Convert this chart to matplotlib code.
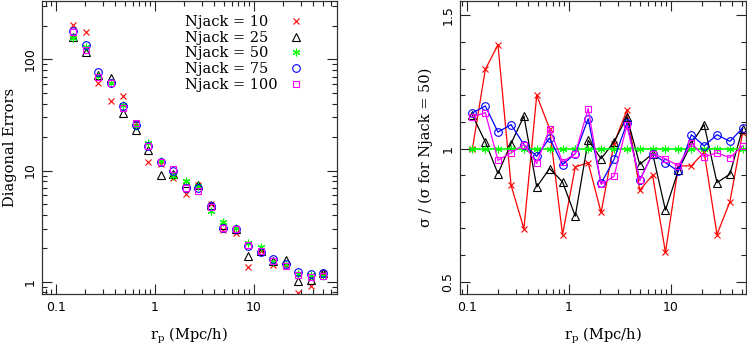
import numpy as np
import matplotlib
matplotlib.use("Agg")
import matplotlib.pyplot as plt
from matplotlib.patches import Patch
from matplotlib.ticker import FuncFormatter, MultipleLocator

plt.rcParams['font.family'] = ['DejaVu Serif']
plt.rcParams['mathtext.fontset'] = 'dejavuserif'

# projected separation bins (Mpc/h)
rp = [0.113, 0.151, 0.201, 0.270, 0.361, 0.482, 0.644, 0.863, 1.15, 1.54, 2.06,
      2.76, 3.69, 4.93, 6.59, 8.81, 11.8, 15.8, 21.1, 28.2, 37.7, 50.3]

# diagonal errors for Njack = 50 (first bin is off the top of the plot)
err_50 = [np.nan, 156, 128, 70.8, 60.8, 38.8, 24.9, 17.6, 12.2, 8.98, 8.09,
          7.29, 4.36, 3.47, 3.02, 2.21, 2.04, 1.51, 1.44, 1.17, 1.15, 1.12]

# sigma / sigma(Njack = 50)
ratio_10 = [1.0, 1.297, 1.39, 0.862, 0.699, 1.2, 1.075, 0.677, 0.931, 0.947, 0.76,
            1.019, 1.144, 0.844, 0.9, 0.61, 0.935, 0.935, 0.987, 0.677, 0.8, 1.06]
ratio_25 = [1.125, 1.025, 0.906, 1.019, 1.122, 0.856, 0.925, 0.875, 0.746, 1.031, 0.962,
            1.025, 1.119, 0.94, 0.981, 0.769, 0.919, 1.019, 1.09, 0.872, 0.904, 1.075]
ratio_50 = [1.0] * 22
ratio_75 = [1.134, 1.16, 1.062, 1.09, 1.015, 0.971, 1.04, 0.94, 0.981, 1.112, 0.869,
            0.959, 1.096, 0.881, 0.981, 0.947, 0.915, 1.052, 1.01, 1.052, 1.027, 1.077]
ratio_100 = [1.119, 1.135, 0.956, 0.984, 1.015, 0.944, 1.075, 0.95, 0.981, 1.15, 0.866,
             0.896, 1.087, 0.881, 0.981, 0.962, 0.935, 1.021, 0.969, 0.984, 0.966, 1.01]

labels = ['Njack = 10', 'Njack = 25', 'Njack = 50', 'Njack = 75', 'Njack = 100']
colors = ['#ff0000', '#000000', '#00ff00', '#0000ff', '#ff00ff']
markers = ['x', '^', (6, 2, 0), 'o', 's']
msizes = [5, 5.5, 5.5, 5.5, 5]
ratios = [ratio_10, ratio_25, ratio_50, ratio_75, ratio_100]

fig = plt.figure(figsize=(7.47, 3.51), dpi=100)
ax1 = fig.add_axes([0.0566, 0.161, 0.394, 0.8375])
ax2 = fig.add_axes([0.6158, 0.161, 0.3829, 0.8375])

rp_arr = np.array(rp)
e50 = np.array(err_50)
handles = []
for lab, c, m, s, r in zip(labels, colors, markers, msizes, ratios):
    h, = ax1.plot(rp_arr, e50 * np.array(r), ls='none', marker=m, ms=s, mec=c,
                  mfc='none', mew=0.8, label=lab)
    handles.append(h)
    lw = 1.2 if lab == 'Njack = 50' else 0.9
    ax2.plot(rp_arr, r, color=c, lw=lw, marker=m, ms=s, mec=c, mfc='none', mew=0.8)

# legend: left-aligned text, markers in a column on the right
leg_kw = dict(frameon=False, fontsize=10.5, labelspacing=0.11, borderaxespad=0,
              borderpad=0, numpoints=1)
blank = [Patch(facecolor='none', edgecolor='none') for _ in labels]
leg_txt = ax1.legend(blank, labels, loc='upper left', bbox_to_anchor=(0.485, 0.95),
                     handlelength=0, handletextpad=0, **leg_kw)
ax1.add_artist(leg_txt)
ax1.legend(handles, [' '] * len(labels), loc='upper right', bbox_to_anchor=(0.892, 0.95),
           markerfirst=False, handlelength=1.2, handletextpad=0.0, **leg_kw)

fmt = FuncFormatter(lambda v, p: '%g' % v)

ax1.set_xscale('log')
ax1.set_yscale('log')
ax1.set_xlim(0.0733, 69)
ax1.set_ylim(0.767, 338)
ax1.xaxis.set_major_formatter(fmt)
ax1.yaxis.set_major_formatter(fmt)
ax1.set_xlabel(r'r$_\mathregular{p}$ (Mpc/h)', fontsize=10.5, labelpad=8)
ax1.set_ylabel('Diagonal Errors', fontsize=10.5, labelpad=5)

ax2.set_xscale('log')
ax2.set_xlim(0.0853, 54.3)
ax2.set_ylim(0.452, 1.556)
ax2.xaxis.set_major_formatter(fmt)
ax2.yaxis.set_major_locator(MultipleLocator(0.5))
ax2.yaxis.set_minor_locator(MultipleLocator(0.1))
ax2.yaxis.set_major_formatter(fmt)
ax2.set_xlabel(r'r$_\mathregular{p}$ (Mpc/h)', fontsize=10.5, labelpad=8)
ax2.set_ylabel('σ / (σ for Njack = 50)', fontsize=10.5, labelpad=6)

for ax in (ax1, ax2):
    ax.tick_params(which='both', direction='in', top=True, right=True,
                   labelsize=9, colors='#222222', labelcolor='black')
    ax.tick_params(which='major', length=7, width=0.8)
    ax.tick_params(which='minor', length=3.5, width=0.8)
    ax.tick_params(axis='x', pad=5)
    ax.tick_params(axis='y', labelrotation=90, pad=4)
    for sp in ax.spines.values():
        sp.set_linewidth(0.9)
        sp.set_color('#333333')
    for t in ax.get_xticklabels() + ax.get_yticklabels():
        t.set_family('DejaVu Sans')
    for t in ax.get_yticklabels():
        t.set_verticalalignment('center')

fig.savefig('out.png', dpi=100)
